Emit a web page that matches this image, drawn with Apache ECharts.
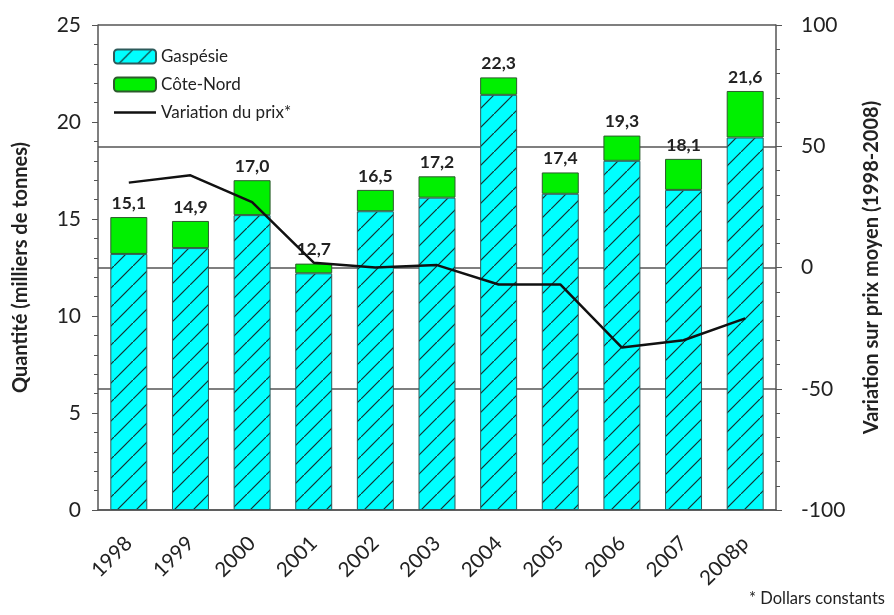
<!DOCTYPE html>
<html>
<head>
<meta charset="utf-8">
<script src="https://cdn.jsdelivr.net/npm/echarts@6/dist/echarts.min.js"></script>
<style>
    html, body { margin: 0; padding: 0; background: #fff; }
    #chart { width: 894px; height: 615px; }
</style>
</head>
<body>
<div id="chart"></div>
<script>
// données
var years = ["1998", "1999", "2000", "2001", "2002", "2003", "2004", "2005", "2006", "2007", "2008p"];
var gaspesie = [13.2, 13.5, 15.2, 12.2, 15.4, 16.1, 21.4, 16.3, 18.0, 16.5, 19.2];
var coteNord = [1.9, 1.4, 1.8, 0.5, 1.1, 1.1, 0.9, 1.1, 1.3, 1.6, 2.4];
var totals = [15.1, 14.9, 17.0, 12.7, 16.5, 17.2, 22.3, 17.4, 19.3, 18.1, 21.6];
var prix = [35, 38, 27, 2, 0, 1, -7, -7, -33, -30, -21];

var font = "Lato, 'Open Sans', sans-serif";

// motif hachuré pour la Gaspésie
function hatch() {
    var s = 19;
    var c = document.createElement("canvas");
    c.width = s;
    c.height = s;
    var ctx = c.getContext("2d");
    ctx.fillStyle = "#00ffff";
    ctx.fillRect(0, 0, s, s);
    ctx.strokeStyle = "#143030";
    ctx.lineWidth = 1.2;
    ctx.beginPath();
    ctx.moveTo(-2, s + 2);
    ctx.lineTo(s + 2, -2);
    ctx.stroke();
    return c;
}

// icône de légende : un simple trait (les petits points fixent la boîte 42x14)
var lineIcon = "path://M0,0L0.01,0L0.01,0.01Z M0,5.8L42,5.8L42,8.2L0,8.2Z M0,14L0.01,14L0.01,13.99Z";

var chart = echarts.init(document.getElementById("chart"));

var option = {
    animation: false,
    textStyle: { fontFamily: font, color: "#222" },
    grid: { left: 98, right: 118, top: 25, bottom: 105 },
    legend: {
        orient: "vertical",
        left: 108,
        top: 43,
        itemWidth: 42,
        itemHeight: 14,
        itemGap: 11,
        textStyle: { fontSize: 17, color: "#222", fontFamily: font },
        data: [
            { name: "Gaspésie" },
            { name: "Côte-Nord" },
            { name: "Variation du prix*", icon: lineIcon, itemStyle: { color: "#111" } }
        ]
    },
    xAxis: {
        type: "category",
        data: years,
        axisLine: { lineStyle: { color: "#555", width: 1.5 } },
        axisTick: { alignWithLabel: true, length: 6, lineStyle: { color: "#555" } },
        axisLabel: { rotate: 45, fontSize: 20.5, color: "#222", margin: 30 }
    },
    yAxis: [
        {
            type: "value",
            min: 0,
            max: 25,
            interval: 5,
            name: "Quantité (milliers de tonnes)",
            nameLocation: "middle",
            nameRotate: 90,
            nameGap: 67,
            nameTextStyle: { fontSize: 20, fontWeight: "bold", color: "#222" },
            axisLine: { show: true, lineStyle: { color: "#555", width: 1.5 } },
            axisTick: { show: true, length: 6, lineStyle: { color: "#555" } },
            minorTick: { show: true, splitNumber: 5, length: 4, lineStyle: { color: "#555" } },
            axisLabel: { fontSize: 21, color: "#222", margin: 17 },
            splitLine: { show: false }
        },
        {
            type: "value",
            min: -100,
            max: 100,
            interval: 50,
            position: "right",
            name: "Variation sur prix moyen (1998-2008)",
            nameLocation: "middle",
            nameRotate: 90,
            nameGap: 86,
            nameTextStyle: { fontSize: 20, fontWeight: "bold", color: "#222" },
            axisLine: { show: true, lineStyle: { color: "#555", width: 1.5 } },
            axisTick: { show: true, length: 6, lineStyle: { color: "#555" } },
            minorTick: { show: true, splitNumber: 5, length: 4, lineStyle: { color: "#555" } },
            axisLabel: { fontSize: 21, color: "#222", margin: 25 },
            splitLine: { show: true, lineStyle: { color: "#555", width: 1.5 } }
        }
    ],
    series: [
        {
            name: "Gaspésie",
            type: "bar",
            stack: "q",
            barWidth: "60%",
            data: gaspesie,
            itemStyle: {
                color: { image: hatch(), repeat: "repeat" },
                borderColor: "#2d5a5a",
                borderWidth: 1
            }
        },
        {
            name: "Côte-Nord",
            type: "bar",
            stack: "q",
            data: coteNord,
            itemStyle: { color: "#00f000", borderColor: "#2d5a2d", borderWidth: 1 },
            label: {
                show: true,
                position: "top",
                distance: 5,
                fontSize: 17.5,
                fontWeight: "bold",
                color: "#222",
                formatter: function(p) {
                    return totals[p.dataIndex].toFixed(1).replace(".", ",");
                }
            }
        },
        {
            name: "Variation du prix*",
            type: "line",
            yAxisIndex: 1,
            data: prix,
            symbol: "none",
            lineStyle: { color: "#111", width: 2.5 },
            itemStyle: { color: "#111" },
            z: 5
        }
    ],
    graphic: [
        {
            type: "text",
            right: 9,
            top: 590,
            style: { text: "* Dollars constants", fontSize: 16.5, fill: "#222", fontFamily: font }
        }
    ]
};

chart.setOption(option);
</script>
</body>
</html>
